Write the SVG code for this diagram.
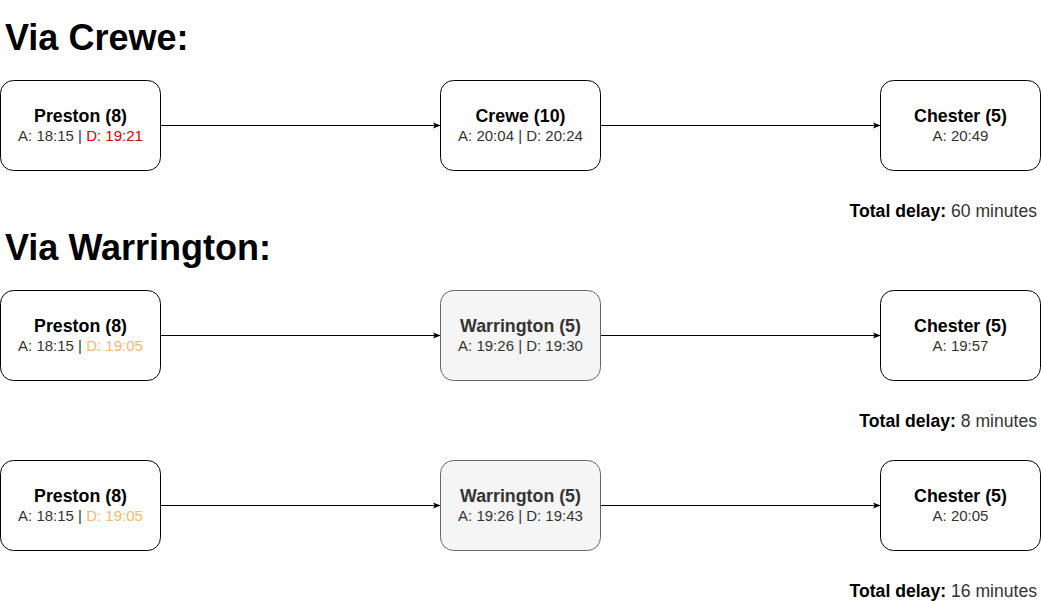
<svg xmlns="http://www.w3.org/2000/svg" width="1041" height="601" viewBox="0 0 1041 601">
<defs>
<style>
.t{font-family:"Liberation Sans",Arial,sans-serif}
.h{font-size:36px;font-weight:bold;fill:#000}
.box{fill:#fff;stroke:#000;stroke-width:1}
.gbox{fill:#f5f5f5;stroke:#666;stroke-width:1}
.n{font-size:17.8px;font-weight:bold;fill:#000;text-anchor:middle}
.gn{fill:#333}
.s{font-size:15px;fill:#333;text-anchor:middle}
.red{fill:#e00000}
.or{fill:#ffb570}
.tot{font-size:17.6px;fill:#333;text-anchor:end}
.tb{font-weight:bold;fill:#000}
.c{stroke:#000;stroke-width:1;fill:none;marker-end:url(#ah)}
</style>
<marker id="ah" viewBox="0 0 10 10" refX="9" refY="5" markerWidth="8" markerHeight="8" markerUnits="userSpaceOnUse" orient="auto">
<path d="M0,1 L10,5 L0,9 L2.5,5 Z" fill="#000"/>
</marker>
</defs>
<rect width="1041" height="601" fill="#fff"/>
<text class="t h" x="5" y="50">Via Crewe:</text>
<text class="t h" x="5" y="260">Via Warrington:</text>
<g id="connectors">
<path class="c" d="M160.5,125.5 H440"/>
<path class="c" d="M600.5,125.5 H880"/>
<path class="c" d="M160.5,335.5 H440"/>
<path class="c" d="M600.5,335.5 H880"/>
<path class="c" d="M160.5,505.5 H440"/>
<path class="c" d="M600.5,505.5 H880"/>
</g>
<g id="preston1">
<rect class="box" x="0.5" y="80.5" width="160" height="90" rx="13"/>
<text class="t n" x="80.5" y="122">Preston (8)</text>
<text class="t s" x="80.5" y="140.5">A: 18:15 | <tspan class="red">D: 19:21</tspan></text>
</g>
<g id="crewe">
<rect class="box" x="440.5" y="80.5" width="160" height="90" rx="13"/>
<text class="t n" x="520.5" y="122">Crewe (10)</text>
<text class="t s" x="520.5" y="140.5">A: 20:04 | D: 20:24</text>
</g>
<g id="chester1">
<rect class="box" x="880.5" y="80.5" width="160" height="90" rx="13"/>
<text class="t n" x="960.5" y="122">Chester (5)</text>
<text class="t s" x="960.5" y="140.5">A: 20:49</text>
</g>
<g id="total1"><text class="t tot" x="1037" y="217"><tspan class="tb">Total delay:</tspan> 60 minutes</text></g>
<g id="preston2">
<rect class="box" x="0.5" y="290.5" width="160" height="90" rx="13"/>
<text class="t n" x="80.5" y="332">Preston (8)</text>
<text class="t s" x="80.5" y="350.5">A: 18:15 | <tspan class="or">D: 19:05</tspan></text>
</g>
<g id="warrington1">
<rect class="gbox" x="440.5" y="290.5" width="160" height="90" rx="13"/>
<text class="t n gn" x="520.5" y="332">Warrington (5)</text>
<text class="t s" x="520.5" y="350.5">A: 19:26 | D: 19:30</text>
</g>
<g id="chester2">
<rect class="box" x="880.5" y="290.5" width="160" height="90" rx="13"/>
<text class="t n" x="960.5" y="332">Chester (5)</text>
<text class="t s" x="960.5" y="350.5">A: 19:57</text>
</g>
<g id="total2"><text class="t tot" x="1037" y="427"><tspan class="tb">Total delay:</tspan> 8 minutes</text></g>
<g id="preston3">
<rect class="box" x="0.5" y="460.5" width="160" height="90" rx="13"/>
<text class="t n" x="80.5" y="502">Preston (8)</text>
<text class="t s" x="80.5" y="520.5">A: 18:15 | <tspan class="or">D: 19:05</tspan></text>
</g>
<g id="warrington2">
<rect class="gbox" x="440.5" y="460.5" width="160" height="90" rx="13"/>
<text class="t n gn" x="520.5" y="502">Warrington (5)</text>
<text class="t s" x="520.5" y="520.5">A: 19:26 | D: 19:43</text>
</g>
<g id="chester3">
<rect class="box" x="880.5" y="460.5" width="160" height="90" rx="13"/>
<text class="t n" x="960.5" y="502">Chester (5)</text>
<text class="t s" x="960.5" y="520.5">A: 20:05</text>
</g>
<g id="total3"><text class="t tot" x="1037" y="597"><tspan class="tb">Total delay:</tspan> 16 minutes</text></g>
</svg>
